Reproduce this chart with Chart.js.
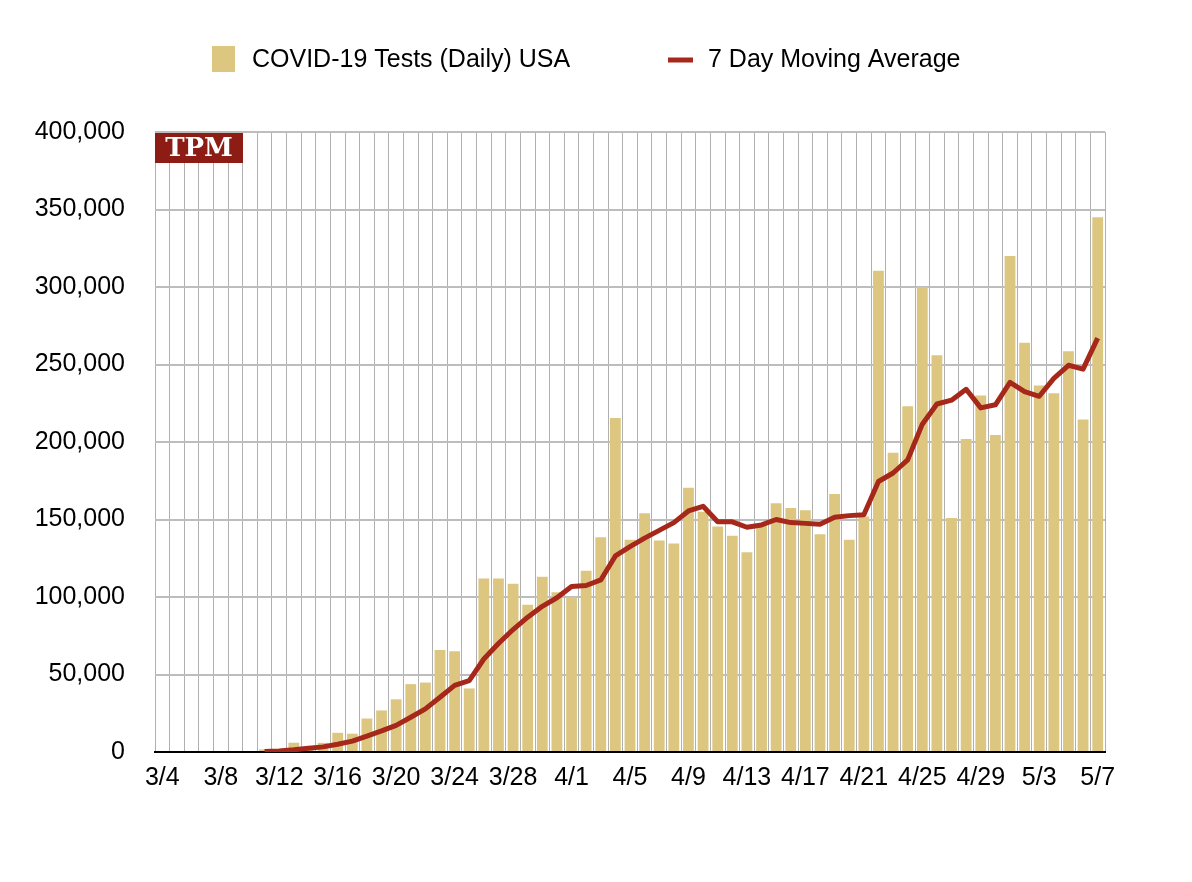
<!DOCTYPE html>
<html>
<head>
<meta charset="utf-8">
<script src="https://cdn.jsdelivr.net/npm/chart.js@4.4.1/dist/chart.umd.min.js"></script>
<style>
    html, body { margin: 0; padding: 0; background: #fff; }
</style>
</head>
<body>
<canvas id="chart" width="1192" height="882"></canvas>
<script>
const dates = [
    '3/4', '3/5', '3/6', '3/7', '3/8', '3/9', '3/10', '3/11', '3/12', '3/13',
    '3/14', '3/15', '3/16', '3/17', '3/18', '3/19', '3/20', '3/21', '3/22', '3/23',
    '3/24', '3/25', '3/26', '3/27', '3/28', '3/29', '3/30', '3/31', '4/1', '4/2',
    '4/3', '4/4', '4/5', '4/6', '4/7', '4/8', '4/9', '4/10', '4/11', '4/12',
    '4/13', '4/14', '4/15', '4/16', '4/17', '4/18', '4/19', '4/20', '4/21', '4/22',
    '4/23', '4/24', '4/25', '4/26', '4/27', '4/28', '4/29', '4/30', '5/1', '5/2',
    '5/3', '5/4', '5/5', '5/6', '5/7'
];

const dailyTests = [
    0, 0, 0, 0, 0, 0, 0, 1700, 1000, 6000,
    2000, 5900, 12400, 11800, 21600, 26800, 34000, 43800, 44800, 65800,
    65000, 41000, 112000, 112000, 108500, 95000, 113000, 103000, 100000, 117000,
    138500, 215500, 137000, 154000, 136500, 134500, 170500, 155000, 145500, 139500,
    128800, 146000, 160500, 157500, 156000, 140500, 166500, 137000, 152000, 310500,
    193000, 223000, 300000, 256000, 151000, 202000, 230000, 204500, 320000, 264000,
    236500, 231500, 258500, 214500, 345000
];

const movingAvg = [
    null, null, null, null, null, null, null, 300, 700, 1400,
    2400, 3300, 5000, 7000, 10300, 13600, 17200, 22400, 27800, 35300,
    43000, 46000, 60000, 70000, 79000, 87000, 94000, 99500, 106800, 107400,
    111000, 126500, 132500, 138000, 143000, 148000, 155500, 158500, 148500, 148500,
    145000, 146500, 150000, 148000, 147500, 147000, 151500, 152500, 153000, 174500,
    180000, 188500, 211500, 224500, 227000, 234000, 222000, 224000, 238500, 232500,
    229500, 241000, 249500, 247000, 267000
];

const barColor = 'rgb(221, 199, 128)';
const lineColor = 'rgb(166, 40, 26)';
const font = '"Liberation Sans", Arial, sans-serif';

// legend and TPM badge, drawn by hand
const overlay = {
    id: 'overlay',
    afterDraw(chart) {
        const ctx = chart.ctx;
        const area = chart.chartArea;
        const sets = chart.data.datasets;
        ctx.save();

        ctx.fillStyle = '#8c1c14';
        ctx.fillRect(area.left, area.top + 1, 88, 30);
        ctx.fillStyle = '#fff';
        ctx.font = 'bold 26px "DejaVu Serif", serif';
        ctx.textAlign = 'center';
        ctx.textBaseline = 'middle';
        ctx.fillText('TPM', area.left + 44, area.top + 17);

        ctx.font = '25px ' + font;
        ctx.textAlign = 'left';
        ctx.fillStyle = barColor;
        ctx.fillRect(212, 46, 23, 26);
        ctx.fillStyle = '#000';
        ctx.fillText(sets[0].label, 252, 60);

        ctx.strokeStyle = lineColor;
        ctx.lineWidth = 5;
        ctx.beginPath();
        ctx.moveTo(668, 60);
        ctx.lineTo(693, 60);
        ctx.stroke();
        ctx.fillStyle = '#000';
        ctx.fillText(sets[1].label, 708, 60);

        ctx.restore();
    }
};

const chart = new Chart(document.getElementById('chart'), {
    data: {
        labels: dates,
        datasets: [
            {
                type: 'bar',
                label: 'COVID-19 Tests (Daily) USA',
                data: dailyTests,
                backgroundColor: barColor,
                categoryPercentage: 1,
                barPercentage: 0.74,
                order: 2
            },
            {
                type: 'line',
                label: '7 Day Moving Average',
                data: movingAvg,
                borderColor: lineColor,
                borderWidth: 5,
                pointRadius: 0,
                tension: 0,
                borderJoinStyle: 'round',
                order: 1
            }
        ]
    },
    options: {
        responsive: false,
        animation: false,
        devicePixelRatio: 1,
        layout: { padding: { left: 0, right: 87, top: 132, bottom: 80 } },
        plugins: {
            legend: { display: false },
            tooltip: { enabled: false }
        },
        scales: {
            x: {
                offset: true,
                grid: { offset: true, color: '#b0b0b0', lineWidth: 1, drawTicks: false },
                border: { display: true, color: '#000', width: 2 },
                ticks: {
                    autoSkip: false,
                    maxRotation: 0,
                    padding: 11,
                    color: '#000',
                    font: { family: font, size: 25 },
                    callback: (v, i) => i % 4 === 0 ? dates[i] : ''
                },
                afterFit: s => { s.height = 50; }
            },
            y: {
                min: 0,
                max: 400000,
                grid: {
                    color: c => c.tick.value === 0 ? '#000' : '#bdbdbd',
                    lineWidth: 2,
                    drawTicks: false
                },
                border: { display: false },
                ticks: {
                    stepSize: 50000,
                    padding: 30,
                    color: '#000',
                    font: { family: font, size: 25 },
                    callback: v => v.toLocaleString('en-US')
                },
                afterFit: s => { s.width = 155; }
            }
        }
    },
    plugins: [overlay]
});
</script>
</body>
</html>
